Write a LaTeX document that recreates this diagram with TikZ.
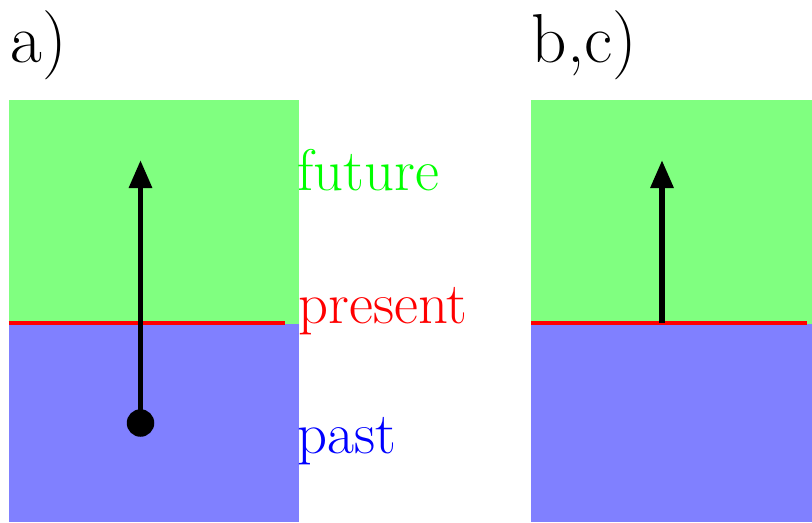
\documentclass[tikz,border=0pt]{standalone}
\usepackage{tikz}
\usetikzlibrary{arrows.meta,positioning}
\tikzset{
  lab/.style={anchor=base west, inner sep=0pt, font=\fontsize{16.7}{20}\selectfont},
  paneltitle/.style={anchor=base west, inner sep=0pt, font=\fontsize{19.7}{24}\selectfont},
  arr/.style={-{Triangle[width=2.2mm,length=2.8mm]}, line width=1.7pt},
  nowline/.style={red, line width=1.4pt},
  event/.style={circle, fill=black, minimum size=2.75mm, inner sep=0pt},
}

\begin{document}
\begin{tikzpicture}
        \useasboundingbox (0,0) rectangle (8.12,5.22);
        % panel a)
        \fill[green!50] (0.09,1.98) rectangle (2.99,4.22);
        \fill[blue!50] (0.09,0) rectangle (2.99,1.98);
        \coordinate (nowa1) at (0.09,1.99); \coordinate (nowa2) at (2.85,1.99);
        \draw[nowline] (nowa1) -- (nowa2);
        \node[paneltitle] (ta) at (0.10,4.60) {a)};
        \node[lab, text=green] (fut) at (2.97,3.32) {future};
        \node[lab, text=red] (pres) at (2.98,1.99) {present};
        \node[lab, text=blue] (pst) at (2.97,0.69) {past};
        \node[event] (evt) at (1.405,0.99) {};
        \coordinate (tipa) at (1.405,3.62);
        \draw[arr] (evt.center) -- (tipa);
        % panel b,c)
        \fill[green!50] (5.31,1.98) rectangle (8.12,4.22);
        \fill[blue!50] (5.31,0) rectangle (8.12,1.98);
        \coordinate (nowb1) at (5.31,1.99); \coordinate (nowb2) at (8.07,1.99);
        \draw[nowline] (nowb1) -- (nowb2);
        \node[paneltitle] (tbc) at (5.31,4.60) {b,c)};
        \coordinate (startb) at (6.62,1.99);
        \coordinate (tipb) at (6.62,3.62);
        \draw[arr] (startb) -- (tipb);
      \end{tikzpicture}
\end{document}
